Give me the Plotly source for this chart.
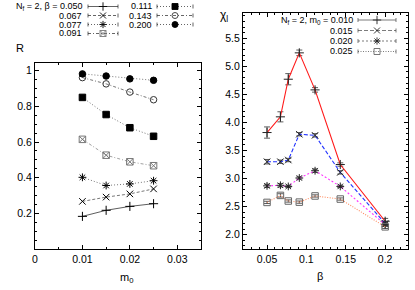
import plotly.graph_objects as go

W, H = 415, 290
FONT = "Liberation Sans, Arial, Helvetica, sans-serif"

# ---------- data: left panel (R vs m0) ----------
m0 = [0.010, 0.015, 0.020, 0.025]
beta_labels = ["0.050", "0.067", "0.077", "0.091", "0.111", "0.143", "0.200"]
R_b050 = [0.183, 0.217, 0.239, 0.254]
R_b067 = [0.267, 0.291, 0.309, 0.337]
R_b077 = [0.402, 0.356, 0.365, 0.383]
R_b091 = [0.615, 0.526, 0.489, 0.467]
R_b111 = [0.850, 0.754, 0.680, 0.632]
R_b143 = [0.961, 0.926, 0.880, 0.837]
R_b200 = [0.982, 0.970, 0.954, 0.946]

# ---------- data: right panel (chi_l vs beta) ----------
beta = [0.050, 0.067, 0.077, 0.091, 0.111, 0.143, 0.200]
m0_labels = ["0.010", "0.015", "0.020", "0.025"]
chi_m010 = [3.82, 4.10, 4.77, 5.24, 4.58, 3.25, 2.24]
err_m010 = [0.10, 0.09, 0.10, 0.05, 0.04, 0.03, 0.05]
chi_m015 = [3.30, 3.30, 3.33, 3.79, 3.77, 3.11, 2.20]
err_m015 = [0.04, 0.03, 0.03, 0.03, 0.03, 0.03, 0.03]
chi_m020 = [2.87, 2.88, 2.86, 3.01, 3.14, 2.86, 2.18]
err_m020 = [0.03, 0.03, 0.02, 0.02, 0.03, 0.02, 0.03]
chi_m025 = [2.575, 2.70, 2.60, 2.58, 2.69, 2.635, 2.14]
err_m025 = [0.02, 0.03, 0.02, 0.02, 0.02, 0.02, 0.03]

# ---------- styles ----------
left_series = [
    (R_b050, "cross-thin-open", "black", "solid", "#333"),
    (R_b067, "x-thin-open", "black", "3px,2px", "#555"),
    (R_b077, "asterisk-open", "black", "1px,2px", "#555"),
    (R_b091, "square-x-open", "#777", "3px,2px,1px,2px", "#888"),
    (R_b111, "square", "black", "1px,2px", "#555"),
    (R_b143, "circle-open", "#333", "3px,2px,1px,2px", "#555"),
    (R_b200, "circle", "black", "1px,2px", "#555"),
]
right_series = [
    (chi_m010, err_m010, "cross-thin-open", "#222", "solid", "#ff1a1a"),
    (chi_m015, err_m015, "x-thin-open", "#222", "4px,2px", "#2233ff"),
    (chi_m020, err_m020, "asterisk-open", "#222", "2px,2px", "#ff33ff"),
    (chi_m025, err_m025, "square-open", "#666", "1px,1.5px", "#ff8c60"),
]


def px_x(p):
    return p / W


def px_y(p):
    return 1 - p / H


fig = go.Figure()

# left panel traces
for ys, sym, mcol, dash, lcol in left_series:
    fig.add_trace(go.Scatter(
        x=m0, y=ys, mode="lines+markers", xaxis="x", yaxis="y",
        line=dict(color=lcol, width=0.8, dash=dash),
        marker=dict(symbol=sym, size=6.5, color=mcol, line=dict(color=mcol, width=1)),
        showlegend=False, hoverinfo="skip"))

# right panel traces
for ys, es, sym, mcol, dash, lcol in right_series:
    fig.add_trace(go.Scatter(
        x=beta, y=ys, mode="lines+markers", xaxis="x2", yaxis="y2",
        line=dict(color=lcol, width=1.1, dash=dash),
        marker=dict(symbol=sym, size=6.5, color=mcol, line=dict(color=mcol, width=1)),
        error_y=dict(type="data", array=es, color="#333", thickness=0.8, width=3),
        showlegend=False, hoverinfo="skip"))

# ---------- legend keys (overlay pixel axis) ----------
def key(x0, x1, yc, sym, mcol, dash, lcol):
    xm = (x0 + x1) / 2
    fig.add_trace(go.Scatter(x=[x0, x1], y=[yc, yc], mode="lines", xaxis="x3", yaxis="y3",
                             line=dict(color=lcol, width=0.7, dash=dash),
                             showlegend=False, hoverinfo="skip"))
    for xe in (x0, x1):
        fig.add_trace(go.Scatter(x=[xe, xe], y=[yc - 2, yc + 2], mode="lines",
                                 xaxis="x3", yaxis="y3",
                                 line=dict(color=lcol, width=0.7),
                                 showlegend=False, hoverinfo="skip"))
    fig.add_trace(go.Scatter(x=[xm], y=[yc], mode="markers", xaxis="x3", yaxis="y3",
                             marker=dict(symbol=sym, size=6, color=mcol,
                                         line=dict(color=mcol, width=0.9)),
                             showlegend=False, hoverinfo="skip"))


annotations = []
LFS = 9
left_rows = [6.5, 15.5, 24.5, 33.5]
for i, (lab, st) in enumerate(zip(beta_labels, left_series)):
    col = 0 if i < 4 else 1
    row = i if i < 4 else i - 4
    yc = left_rows[row]
    txt_right = 84 if col == 0 else 154
    kx0, kx1 = (88, 118) if col == 0 else (157, 193)
    text = ("N<sub>f</sub> = 2, β = " + lab) if i == 0 else lab
    annotations.append(dict(x=px_x(txt_right), y=px_y(yc), xref="paper", yref="paper",
                            text=text, showarrow=False, xanchor="right", yanchor="middle",
                            font=dict(size=LFS, family=FONT, color="black")))
    key(kx0, kx1, yc, st[1], st[2], st[3], "#222")

right_rows = [20, 30.5, 41, 51.5]
for i, (lab, st) in enumerate(zip(m0_labels, right_series)):
    yc = right_rows[i]
    text = ("N<sub>f</sub> = 2, m<sub>0</sub> = " + lab) if i == 0 else lab
    annotations.append(dict(x=px_x(355), y=px_y(yc), xref="paper", yref="paper",
                            text=text, showarrow=False, xanchor="right", yanchor="middle",
                            font=dict(size=LFS, family=FONT, color="black")))
    key(358, 396, yc, st[2], st[3], st[4], "#444")

# axis titles
annotations += [
    dict(x=px_x(14), y=px_y(40), xref="paper", yref="paper", text="R", showarrow=False,
         font=dict(size=11, family=FONT, color="black")),
    dict(x=px_x(118), y=px_y(287), xref="paper", yref="paper", text="m<sub>0</sub>",
         showarrow=False, font=dict(size=11, family=FONT, color="black")),
    dict(x=px_x(224), y=px_y(6), xref="paper", yref="paper", text="χ<sub>l</sub>",
         showarrow=False, font=dict(size=12, family=FONT, color="black")),
    dict(x=px_x(325), y=px_y(284), xref="paper", yref="paper", text="β",
         showarrow=False, font=dict(size=11, family=FONT, color="black")),
]

axis_common = dict(showgrid=False, zeroline=False, showline=True, linecolor="black",
                   linewidth=1, mirror="ticks", ticks="inside", ticklen=4,
                   tickcolor="black", tickwidth=1, automargin=False,
                   tickfont=dict(size=10.5, family=FONT, color="black"))

fig.update_layout(
    width=W, height=H, margin=dict(l=0, r=0, t=0, b=0),
    paper_bgcolor="white", plot_bgcolor="rgba(0,0,0,0)",
    font=dict(family=FONT, color="black"),
    xaxis=dict(domain=[px_x(35), px_x(201)], range=[0, 0.035], anchor="y",
               tickmode="array",
               tickvals=[0, 0.01, 0.02, 0.03], ticktext=["0", "0.01", "0.02", "0.03"],
               minor=dict(ticks="inside", ticklen=2, tickmode="array",
                          tickvals=[0.005, 0.015, 0.025]),
               **axis_common),
    yaxis=dict(domain=[px_y(249), px_y(63)], range=[0, 1.043], anchor="x",
               tickmode="array",
               tickvals=[0.2, 0.4, 0.6, 0.8, 1.0], ticktext=["0.2", "0.4", "0.6", "0.8", "1"],
               minor=dict(ticks="inside", ticklen=2, tickmode="array",
                          tickvals=[round(0.05 * k, 3) for k in range(21)]),
               **axis_common),
    xaxis2=dict(domain=[px_x(243), px_x(408)], range=[0.0195, 0.229], anchor="y2",
                tickmode="array",
                tickvals=[0.05, 0.1, 0.15, 0.2], ticktext=["0.05", "0.1", "0.15", "0.2"],
                minor=dict(ticks="inside", ticklen=2, tickmode="array",
                           tickvals=[round(0.01 * k, 3) for k in range(2, 23)]),
                **axis_common),
    yaxis2=dict(domain=[px_y(249), px_y(13)], range=[1.745, 5.95], anchor="x2",
                tickmode="array",
                tickvals=[2.0, 2.5, 3.0, 3.5, 4.0, 4.5, 5.0, 5.5],
                ticktext=["2.0", "2.5", "3.0", "3.5", "4.0", "4.5", "5.0", "5.5"],
                minor=dict(ticks="inside", ticklen=2, tickmode="array",
                           tickvals=[round(1.8 + 0.1 * k, 2) for k in range(42)]),
                **axis_common),
    xaxis3=dict(domain=[0, 1], range=[0, W], visible=False, anchor="y3", fixedrange=True),
    yaxis3=dict(domain=[0, 1], range=[H, 0], visible=False, anchor="x3", fixedrange=True),
    annotations=annotations,
)

fig.write_html("out.html", config={"displayModeBar": False},
               post_script="document.body.style.margin='0';document.body.style.overflow='hidden';")
